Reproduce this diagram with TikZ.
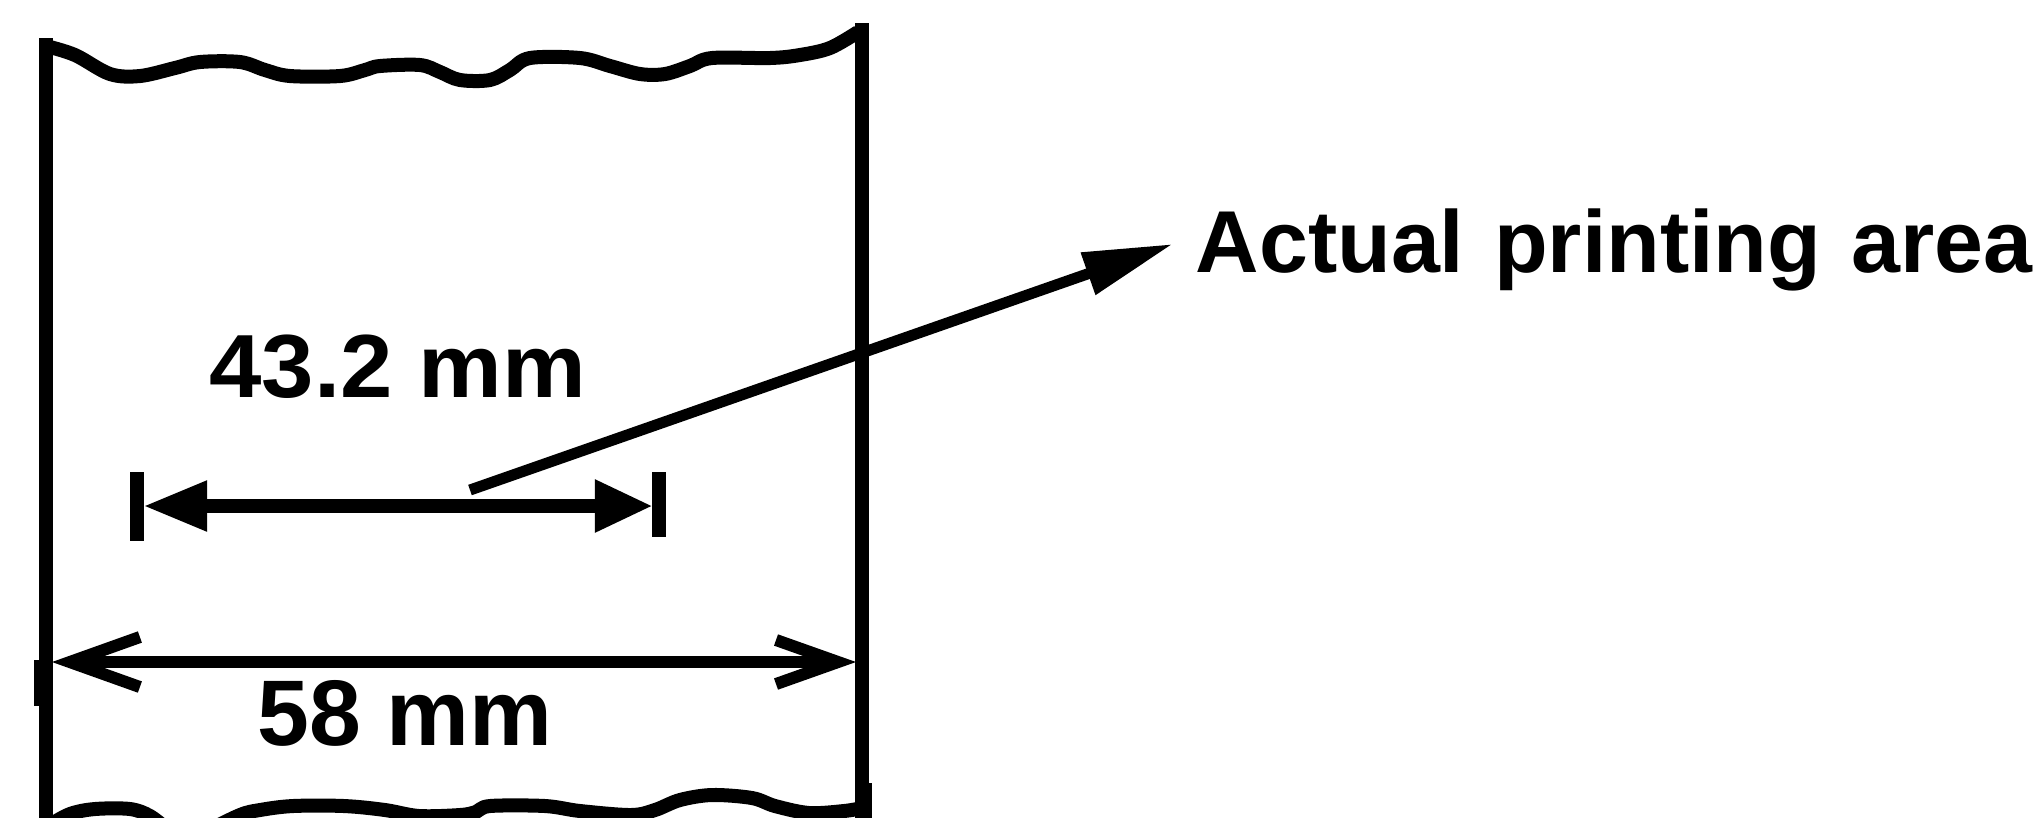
\documentclass[tikz,border=0pt]{standalone}
\usepackage{fontspec}
\setmainfont{Liberation Sans}
\newfontfamily\widefont[FakeStretch=1.05]{Liberation Sans}
\usepackage{tikz}
\usetikzlibrary{arrows.meta}

\begin{document}
\begin{tikzpicture}[x=0.01cm, y=-0.01cm,
    edge/.style={line width=0.14cm},
    wave/.style={line width=0.14cm, smooth, tension=0.55},
    dimline/.style={line width=0.14cm, {Triangle[length=0.64cm,width=0.47cm]}-{Triangle[length=0.58cm,width=0.49cm]}},
    widthline/.style={line width=0.12cm, {Straight Barb[length=0.7cm,width=0.5cm]}-{Straight Barb[length=0.62cm,width=0.44cm]}},
    leader/.style={line width=0.11cm, -{Triangle[length=0.9cm,width=0.42cm]}},
    lbl/.style={inner sep=0pt, font=\bfseries\fontsize{25}{30}\selectfont}]
  \useasboundingbox (0,0) rectangle (2039,817);
  \clip (0,0) rectangle (2039,817);
  % paper strip: side edges
  \draw[edge] (46,38) -- (46,830);
  \draw[edge] (862,23) -- (862,830);
  \draw[line width=0.06cm] (869,783) -- (869,830);
  % torn top and bottom
  \draw[wave] plot coordinates {(46,46) (75,55) (110,74) (140,76) (175,68) (200,62) (240,62) (265,70)
    (290,76) (340,76) (365,70) (380,66) (420,65) (440,72) (460,80) (490,80) (510,70) (530,58)
    (580,58) (610,66) (640,74) (665,74) (690,66) (712,58) (770,58) (800,55) (830,48) (858,32)};
  \draw[wave] plot coordinates {(48,826) (70,814) (95,809) (130,809) (150,816) (168,830)};
  \draw[wave] plot coordinates {(205,832) (240,815) (260,810) (293,806) (344,806) (385,810) (419,816)
    (460,815) (476,812) (490,806) (545,806) (580,811) (631,815) (655,810) (680,800) (712,795)
    (752,798) (775,806) (809,813) (844,811) (862,808)};
  % printing width 43.2 mm
  \coordinate (d1) at (143,506);
  \coordinate (d2) at (653,506);
  \draw[edge] (137,472) -- (137,541);
  \draw[edge] (659,472) -- (659,537);
  \draw[dimline] (d1) -- (d2);
  \node[lbl, anchor=base, font=\widefont\bfseries\fontsize{25.5}{30}\selectfont] (w432) at (398,397) {43.2 mm};
  % paper width 58 mm
  \coordinate (w1) at (52,662);
  \coordinate (w2) at (856,662);
  \draw[edge] (41,660) -- (41,706);
  \draw[widthline] (w1) -- (w2);
  \node[lbl, anchor=base, font=\bfseries\fontsize{26.5}{31}\selectfont] (w58) at (405,745) {58 mm};
  % leader to label
  \node[lbl, anchor=base west] (area) at (1195,272) {\spaceskip=0.34em Actual printing area};
  \coordinate (lstart) at (470,490);
  \coordinate (ltip) at (1173,244);
  \draw[leader] (lstart) -- (ltip);
\end{tikzpicture}
\end{document}
